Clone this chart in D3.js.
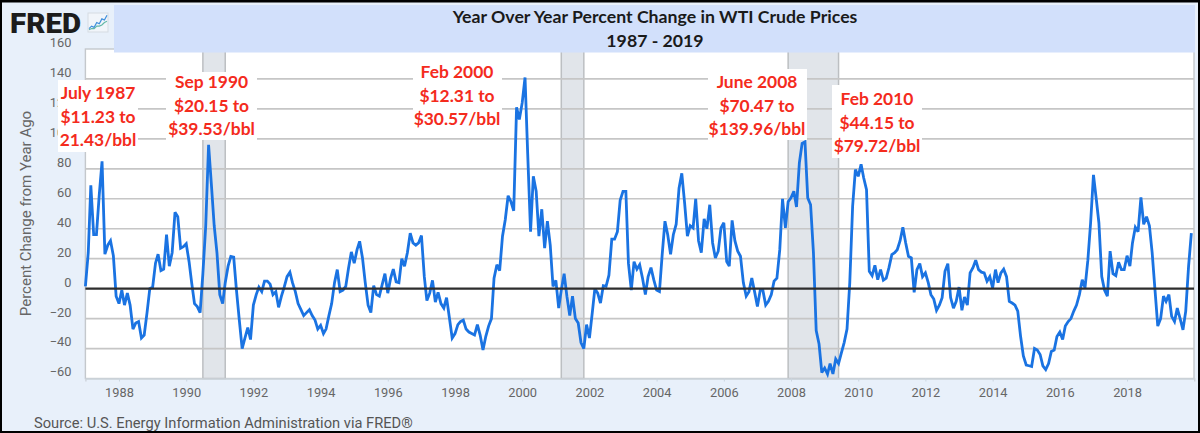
<!DOCTYPE html>
<html><head><meta charset="utf-8">
<script src="https://cdn.jsdelivr.net/npm/d3@7"></script>
<style>
html,body{margin:0;padding:0;background:#000;overflow:hidden}
svg{display:block}
text{font-family:Roboto,sans-serif}
</style></head><body>
<svg id="c" width="1200" height="433"></svg>
<script>
// ---- data ----
const startYear = 1987;
const yoyPercentChange = [
 1.5,24,69,36,36,63,85,23,29,32,22,-5,
 -10,-1,-11,-3,-11,-27,-23,-22,-33,-31,-16,0,
 1,17,23,12,13,36,15,24,51,48,27,28,
 30,18,4,-10,-12,-16,10,42,96,70,42,24,
 -4,-10,4,15,21.5,21,-1,-21,-40,-33,-26,-34,
 -11,-4,1,-2,5,5,3,-4,-2,-12.5,-5,1,
 8,11,4,-2,-10,-14,-18,-16,-14,-18,-21,-27,
 -24.5,-30,-27,-18,-10,4,12.7,-2,-1,1.5,14,24.5,
 17,26,31.6,20.5,4,-11,-16,2,-4,-5,2.7,10,
 -3,7,13,4.5,4,20,15,24,37,30.5,29,30.5,
 35.4,8,-8,-3,5.5,-9,-2.5,-10,-13,-6,-19.6,-33,
 -30,-24,-22,-21,-27,-29,-30,-31,-24,-31,-41,-32,
 -25,-20,7,16,12,35,46,62,58,52,121,113,
 124,141,90,38,75,65,35,53,27,45,29,1.5,
 5.5,-13,-1,10,-5,-18,-5,-20,-23,-36,-40,-24,
 -33,-16,0,-3,-9.6,2,1.5,9,33,33,38,59,
 65,65,17,-1,18,13,16,7,-4,8,14,6,
 -1,-2,22,45,36,23,36,43,67,77,57,35,
 42,40.5,60,32,24,46.5,40,56,30.5,20.5,25,40.5,
 44,18,15,45.6,32,25,21.6,4,-5,-2,7,-2,
 -12,-1,-1,-11,-8.5,-4,5,7,26,60,40.5,58,
 60.6,65,54.5,84,97,98,60.6,56,24,-28,-37,-56,
 -53,-57,-50,-57,-47,-50,-43,-36,-27,4,55,79.5,
 75,83,74,66,11.6,8.7,15.6,6,12.7,5.6,7,14,
 22.7,24,26,32,41,30.5,21.6,20.5,-2.5,12.7,16.7,8,
 10.5,4,-4,-7,-14.5,-11,-6,11.6,16.7,-6,-13,-8.5,
 1,-14.5,-5.6,-11,10.5,14,19,12.7,11,10.5,5,8,
 0.5,12.7,4,10.5,13,8,-8.5,-9.6,-11,-15,-32,-45,
 -51,-51.5,-52,-40,-41,-44,-51.5,-54,-50,-42,-41,-32,
 -29,-34,-25,-22,-20,-15,-11,-4,6,0.5,19,44,
 76,59.5,44,8,-1,-5,25,10,8.7,17.6,12.7,12.7,
 22,15,30.5,41,38,61,43,48,42,24,-1,-25,
 -20,-5,-8.5,-4,-18.5,-22,-13,-20,-27.5,-15,15,37
];
const yTickValues = [-60,-40,-20,0,20,40,60,80,100,120,140,160];
const xTickYears = d3.range(1988, 2020, 2);
const recessionStarts = ["1990-07-01","2001-03-01","2007-12-01"];
const recessionEnds   = ["1991-03-01","2001-11-01","2009-06-01"];
const titleLines = ["Year Over Year Percent Change in WTI Crude Prices","1987 - 2019"];
const annotationLabels = [
 ["July 1987","$11.23 to","21.43/bbl"],
 ["Sep 1990","$20.15 to","$39.53/bbl"],
 ["Feb 2000","$12.31 to","$30.57/bbl"],
 ["June 2008","$70.47 to","$139.96/bbl"],
 ["Feb 2010","$44.15 to","$79.72/bbl"]
];
const yAxisTitle = "Percent Change from Year Ago";
const sourceText = "Source: U.S. Energy Information Administration via FRED®";
const logoBlue = [2,4,3,7,6,10,9,13];
const logoGreen = [1,2,2,4,4,5,7,8];

// ---- layout ----
const svg = d3.select("#c");
const L = 85.4, R = 1194, T = 49, B = 378.5;
const x = d3.scaleUtc().domain([new Date(Date.UTC(1987,0,1)), new Date(Date.UTC(2020,0,1))]).range([L, L + 33.6*33]);
const y = d3.scaleLinear().domain([-60,160]).range([B,T]);
const dates = yoyPercentChange.map((_,i)=>new Date(Date.UTC(startYear,i,1)));

// page
svg.append("rect").attr("width",1200).attr("height",433).attr("fill","#000");
svg.append("rect").attr("x",2).attr("y",2.5).attr("width",1196).attr("height",428.5).attr("fill","#e8f0fa");
svg.append("rect").attr("x",L).attr("y",T).attr("width",R-L).attr("height",B-T).attr("fill","#fff").attr("stroke","#c4c8cc").attr("stroke-width",1.4);

// recessions
svg.append("g").selectAll("rect").data(recessionStarts).join("rect")
 .attr("x",d=>x(new Date(d))).attr("y",T)
 .attr("width",(d,i)=>x(new Date(recessionEnds[i]))-x(new Date(d))).attr("height",B-T)
 .attr("fill","#e1e5ea").attr("stroke","#bcbfc2").attr("stroke-width",1.5);

// y axis + gridlines
const yAxis = svg.append("g").attr("transform",`translate(${L},0)`)
 .call(d3.axisLeft(y).tickValues(yTickValues).tickSize(0).tickPadding(14));
yAxis.select(".domain").remove();
yAxis.selectAll("text").attr("font-size",12.8).attr("fill","#666").attr("dy","-0.2em").attr("font-family","Roboto");
svg.append("g").selectAll("line").data(yTickValues.filter(d=>d!==0 && d!==-60 && d!==160)).join("line")
 .attr("x1",L).attr("x2",R).attr("y1",y).attr("y2",y).attr("stroke","#c6c6c6").attr("stroke-width",1.7);

// x axis
const xAxis = svg.append("g").attr("transform",`translate(0,${B})`)
 .call(d3.axisBottom(x).tickValues(xTickYears.map(v=>new Date(Date.UTC(v,0,1)))).tickFormat(d3.utcFormat("%Y")).tickSize(3).tickPadding(6));
xAxis.select(".domain").attr("stroke","#ccd3da").attr("stroke-width",1.4);
xAxis.selectAll(".tick line").attr("stroke","#ccd6e0");
xAxis.selectAll("text").attr("font-size",12.8).attr("fill","#666").attr("font-family","Roboto");

// series
svg.append("path").datum(yoyPercentChange)
 .attr("d",d3.line().x((d,i)=>x(dates[i])).y(d=>y(d)))
 .attr("fill","none").attr("stroke","#1a73e2").attr("stroke-width",2.8).attr("stroke-linejoin","miter").attr("stroke-miterlimit",3);

// zero line
svg.append("line").attr("x1",L).attr("x2",R).attr("y1",y(0)).attr("y2",y(0)).attr("stroke","#2d2d2d").attr("stroke-width",2.2);

// title band
svg.append("rect").attr("x",114).attr("y",5).attr("width",1081).attr("height",47.5).attr("fill","#d2e0fb");
svg.append("g").selectAll("text").data(titleLines).join("text")
 .attr("x",655).attr("y",(d,i)=>23+i*23.5).attr("text-anchor","middle")
 .attr("font-size",17.7).attr("font-weight",700).attr("fill","#1a1a1a").style("font-family","Lato").text(d=>d);

// annotations
const annotationBoxes = [
 {x:58,y:80,w:80,h:72,cx:98,base:99},
 {x:166,y:72,w:91,h:68,cx:211.5,base:88},
 {x:413,y:53,w:89,h:77,cx:457,base:78},
 {x:708,y:69,w:99,h:71,cx:757,base:88},
 {x:832,y:85,w:90,h:73,cx:877,base:105}
];
const ann = svg.append("g").selectAll("g").data(annotationLabels).join("g");
ann.append("rect").attr("x",(d,i)=>annotationBoxes[i].x).attr("y",(d,i)=>annotationBoxes[i].y)
 .attr("width",(d,i)=>annotationBoxes[i].w).attr("height",(d,i)=>annotationBoxes[i].h).attr("fill","#fff");
ann.each(function(lines,i){
 const b=annotationBoxes[i];
 d3.select(this).selectAll("text").data(lines).join("text")
  .attr("x",b.cx).attr("y",(d,j)=>b.base+j*23.5).attr("text-anchor","middle")
  .attr("font-size",17.4).attr("font-weight",700).attr("fill","#f42b1d").style("font-family","Lato").text(d=>d);
});

// axis title + source
svg.append("text").attr("transform","translate(31,213.5) rotate(-90)").attr("text-anchor","middle")
 .attr("font-size",15).attr("fill","#666").text(yAxisTitle);
svg.append("text").attr("x",34).attr("y",428).attr("font-size",14.7).attr("fill","#555").text(sourceText);

// logo
svg.append("text").attr("x",10).attr("y",32.5).attr("font-size",28).attr("font-weight",900)
 .attr("fill","#1c1c1c").attr("textLength",71).attr("lengthAdjust","spacingAndGlyphs").text("FRED");
svg.append("rect").attr("x",88).attr("y",13).attr("width",20).attr("height",19).attr("fill","#f1f5fa").attr("stroke","#d5dbe2");
const lx = d3.scaleLinear().domain([0,7]).range([89,107]);
const ly = d3.scaleLinear().domain([0,14]).range([31,14]);
const logoLine = d3.line().x((d,i)=>lx(i)).y(d=>ly(d));
svg.append("path").attr("d",logoLine(logoBlue)).attr("fill","none").attr("stroke","#3f8fdc").attr("stroke-width",1.2);
svg.append("path").attr("d",logoLine(logoGreen)).attr("fill","none").attr("stroke","#62b8a8").attr("stroke-width",1.2);
</script>
</body></html>
